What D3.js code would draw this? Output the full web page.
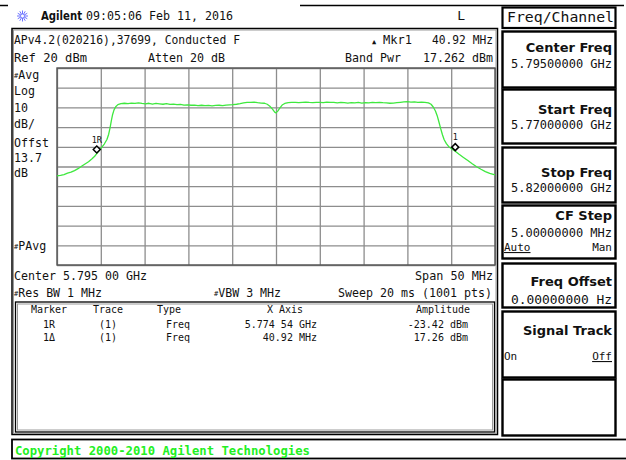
<!DOCTYPE html>
<html>
<head>
<meta charset="utf-8">
<script src="https://cdn.jsdelivr.net/npm/d3@7"></script>
<style>
  html, body { margin: 0; padding: 0; background: #fff; }
  svg { display: block; }
  text { font-family: "DejaVu Sans Mono", monospace; fill: #111; }
</style>
</head>
<body>
<svg id="screen" width="626" height="460"></svg>
<script>
// Sweep: 5.770 – 5.820 GHz, Ref 20 dBm, 10 dB/div
const startMHz = 5770, stopMHz = 5820;
const refLevel = 20, dbPerDiv = 10, divisions = 10;

// Grid positions (MHz and dBm)
const xGridMHz = [5770, 5775, 5780, 5785, 5790, 5795, 5800, 5805, 5810, 5815, 5820];
const yGridDbm = [20, 10, 0, -10, -20, -30, -40, -50, -60, -70, -80];

// Averaged trace
const freqMHz = [
  5770.0, 5770.4, 5770.8, 5771.2, 5771.6, 5772.0, 5772.4, 5772.8, 5773.2, 5773.6,
  5774.0, 5774.3, 5774.54, 5774.8, 5775.1, 5775.4, 5775.7, 5775.9, 5776.05, 5776.2,
  5776.35, 5776.5, 5776.7, 5776.95, 5777.3, 5777.7, 5778.1, 5778.5, 5778.9, 5779.3,
  5779.7, 5780.1, 5780.5, 5780.9, 5781.3, 5781.7, 5782.1, 5782.5, 5782.9, 5783.3,
  5783.7, 5784.1, 5784.5, 5784.9, 5785.3, 5785.7, 5786.1, 5786.5, 5786.9, 5787.3,
  5787.7, 5788.1, 5788.5, 5788.9, 5789.3, 5789.7, 5790.1, 5790.5, 5790.9, 5791.3,
  5791.7, 5792.1, 5792.5, 5792.9, 5793.3, 5793.7, 5794.0, 5794.3, 5794.6, 5794.85,
  5795.0, 5795.2, 5795.45, 5795.7, 5796.0, 5796.4, 5796.8, 5797.2, 5797.6, 5798.0,
  5798.4, 5798.8, 5799.2, 5799.6, 5800.0, 5800.4, 5800.8, 5801.2, 5801.6, 5802.0,
  5802.4, 5802.8, 5803.2, 5803.6, 5804.0, 5804.4, 5804.8, 5805.2, 5805.6, 5806.0,
  5806.4, 5806.8, 5807.2, 5807.6, 5808.0, 5808.4, 5808.8, 5809.2, 5809.6, 5810.0,
  5810.4, 5810.8, 5811.2, 5811.6, 5812.0, 5812.4, 5812.7, 5812.95, 5813.2, 5813.4,
  5813.6, 5813.8, 5814.0, 5814.2, 5814.45, 5814.7, 5815.0, 5815.46, 5815.9, 5816.4,
  5816.9, 5817.4, 5817.9, 5818.4, 5818.9, 5819.4, 5820.0
];
const levelDbm = [
  -34.8, -34.5, -34.1, -33.4, -32.9, -32.1, -31.1, -29.9, -28.7, -27.6,
  -26.1, -24.8, -23.42, -21.9, -20.3, -18.6, -16.3, -13.6, -10.5, -6.8,
  -3.6, -1.4, 0.3, 1.4, 1.9, 2.1, 1.9, 2.2, 2.0, 2.3,
  2.0, 1.8, 2.1, 1.7, 2.0, 1.8, 1.6, 1.9, 1.5, 1.7,
  1.4, 1.5, 1.2, 1.3, 1.1, 1.2, 0.9, 1.1, 0.9, 1.0,
  0.8, 1.0, 1.1, 0.9, 1.2, 1.3, 1.4, 1.6, 1.9, 2.3,
  2.6, 2.5, 2.7, 2.4, 2.2, 2.1, 1.6, 0.6, -0.9, -2.4,
  -2.8, -1.9, -0.2, 1.2, 2.0, 2.4, 2.5, 2.6, 2.4, 2.6,
  2.7, 2.5, 2.4, 2.6, 2.5, 2.4, 2.7, 2.5, 2.6, 2.3,
  2.5, 2.4, 2.2, 2.4, 2.3, 2.5, 2.2, 2.4, 2.3, 2.5,
  2.4, 2.6, 2.4, 2.3, 2.1, 2.2, 2.4, 2.6, 2.8, 2.9,
  2.7, 2.8, 2.6, 2.7, 2.5, 2.3, 1.6, 0.2, -1.8, -4.2,
  -7.4, -10.8, -13.9, -16.4, -18.4, -19.8, -20.9, -22.2, -23.8, -25.4,
  -27.0, -28.6, -30.1, -31.4, -32.6, -33.5, -34.2
];

// Markers: reference and delta
const markerIds = ["1R", "1"];
const markerMHz = [5774.54, 5815.46];
const markerDbm = [-23.42, -22.2];

// Marker table
const tableHeader = ["Marker", "Trace", "Type", "X Axis", "Amplitude"];
const tableRows = [
  ["1R", "(1)", "Freq", "5.774 54 GHz", "-23.42 dBm"],
  ["1\u0394", "(1)", "Freq", "40.92 MHz", "17.26 dBm"]
];

// Soft-key menu
const menuTitle = "Freq/Channel";
const softKeyLabels = ["Center Freq", "Start Freq", "Stop Freq", "CF Step", "Freq Offset", "Signal Track", ""];
const softKeyValues = ["5.79500000 GHz", "5.77000000 GHz", "5.82000000 GHz", "5.00000000 MHz", "0.00000000  Hz", "", ""];

const svg = d3.select("#screen");

// ---------- plot area ----------
const plot = { left: 57, right: 495, top: 68, bottom: 265 };
const x = d3.scaleLinear().domain([startMHz, stopMHz]).range([plot.left, plot.right]);
const y = d3.scaleLinear().domain([refLevel, refLevel - dbPerDiv * divisions]).range([plot.top, plot.bottom]);

// ---------- frames ----------
svg.append("line").attr("x1", 0).attr("x2", 8).attr("y1", 5.5).attr("y2", 5.5)
  .attr("stroke", "#000").attr("stroke-width", 1.5);
svg.append("line").attr("x1", 300).attr("x2", 624).attr("y1", 5.5).attr("y2", 5.5)
  .attr("stroke", "#000").attr("stroke-width", 1.5);

// main measurement frame
svg.append("rect").attr("x", 12).attr("y", 28.5).attr("width", 485.5).attr("height", 406)
  .attr("fill", "none").attr("stroke", "#000").attr("stroke-width", 1.5);
svg.append("rect").attr("x", 13.5).attr("y", 30).attr("width", 482.5).attr("height", 403.5)
  .attr("fill", "none").attr("stroke", "#9a9a9a").attr("stroke-width", 1);

// marker table frame (double line)
svg.append("rect").attr("x", 15.5).attr("y", 302).attr("width", 479).attr("height", 130)
  .attr("fill", "none").attr("stroke", "#000").attr("stroke-width", 1.3);
svg.append("rect").attr("x", 17.5).attr("y", 304).attr("width", 475).attr("height", 126)
  .attr("fill", "none").attr("stroke", "#9a9a9a").attr("stroke-width", 1);

// ---------- graticule ----------
const grid = svg.append("g");
grid.append("g")
  .attr("transform", `translate(0,${plot.bottom})`)
  .call(d3.axisBottom(x).tickValues(xGridMHz).tickSize(-(plot.bottom - plot.top)).tickFormat(""))
  .call(g => g.select(".domain").remove())
  .call(g => g.selectAll(".tick line").attr("stroke", "#8d8d8d").attr("stroke-width", 1.3));
grid.append("g")
  .attr("transform", `translate(${plot.left},0)`)
  .call(d3.axisLeft(y).tickValues(yGridDbm).tickSize(-(plot.right - plot.left)).tickFormat(""))
  .call(g => g.select(".domain").remove())
  .call(g => g.selectAll(".tick line").attr("stroke", "#8d8d8d").attr("stroke-width", 1.3));
grid.append("rect")
  .attr("x", plot.left).attr("y", plot.top)
  .attr("width", plot.right - plot.left).attr("height", plot.bottom - plot.top)
  .attr("fill", "none").attr("stroke", "#555").attr("stroke-width", 1.4);

// ---------- trace ----------
const trace = freqMHz.map((f, i) => [f, levelDbm[i]]);
svg.append("path")
  .datum(trace)
  .attr("fill", "none")
  .attr("stroke", "#3ee83e")
  .attr("stroke-width", 1.3)
  .attr("stroke-linejoin", "round")
  .attr("d", d3.line().x(d => x(d[0])).y(d => y(d[1])));

// ---------- markers ----------
const mk = svg.append("g").selectAll("g").data(markerIds).join("g")
  .attr("transform", (d, i) => `translate(${x(markerMHz[i])},${y(markerDbm[i]) - 4})`);
mk.append("path").attr("d", "M0,-3.5L3.5,0L0,3.5L-3.5,0Z")
  .attr("fill", "#fff").attr("stroke", "#000").attr("stroke-width", 1.5);
mk.append("text").attr("x", 0).attr("y", -7).attr("text-anchor", "middle")
  .attr("font-size", 8.5).text(d => d);

// ---------- text helper ----------
function label(txt, xp, yp, opt = {}) {
  const t = svg.append("text").attr("x", xp).attr("y", yp)
    .attr("font-size", opt.size || 11.6)
    .attr("text-anchor", opt.anchor || "start")
    .text(txt);
  if (opt.weight) t.attr("font-weight", opt.weight);
  if (opt.family) t.style("font-family", opt.family);
  if (opt.fill) t.style("fill", opt.fill);
  if (opt.len) t.attr("textLength", opt.len).attr("lengthAdjust", "spacingAndGlyphs");
  if (opt.underline) t.attr("text-decoration", "underline");
  return t;
}

// header
const star = svg.append("g").attr("transform", "translate(22.5,16)");
[0, 30, 60, 90, 120, 150].forEach(a => {
  const r = (a * Math.PI) / 180;
  star.append("line")
    .attr("x1", -5.5 * Math.cos(r)).attr("y1", -5.5 * Math.sin(r))
    .attr("x2", 5.5 * Math.cos(r)).attr("y2", 5.5 * Math.sin(r))
    .attr("stroke", "#6d73ff").attr("stroke-width", 1);
});
star.append("circle").attr("r", 2).attr("fill", "#fff").attr("stroke", "#6d73ff").attr("stroke-width", 0.8);
label("Agilent", 41, 20, { size: 12, weight: "bold", family: "DejaVu Sans", len: 41 });
label("09:05:06  Feb 11, 2016", 86, 20, { size: 12, len: 147 });
label("L", 465, 20, { size: 13, anchor: "end" });

// annotation lines
label("APv4.2(020216),37699, Conducted F", 14, 44, { len: 226 });
label("\u25B2", 372, 44, { size: 7 });
label("Mkr1", 383, 44, { len: 29 });
label("40.92 MHz", 493, 44, { anchor: "end", len: 61 });
label("Ref 20 dBm", 14, 62, { len: 73 });
label("Atten 20 dB", 148, 62, { len: 77 });
label("Band Pwr", 345, 62, { len: 56 });
label("17.262 dBm", 493, 62, { anchor: "end", len: 70 });

const side = [["Avg", 79, true], ["Log", 95], ["10", 112], ["dB/", 128], ["Offst", 147], ["13.7", 162], ["dB", 177], ["PAvg", 250, true]];
side.forEach(([s, yy, hash]) => {
  const t = svg.append("text").attr("x", 14).attr("y", yy).attr("font-size", 11.6);
  if (hash) t.append("tspan").attr("font-size", 7).attr("dy", -1).text("#");
  t.append("tspan").attr("dy", hash ? 1 : 0).text(s);
});

label("Center 5.795 00 GHz", 14, 280, { len: 133 });
label("Span 50 MHz", 493, 280, { anchor: "end", len: 78 });
{
  const t = svg.append("text").attr("x", 14).attr("y", 297).attr("font-size", 11.6);
  t.append("tspan").attr("font-size", 7).attr("dy", -1).text("#");
  t.append("tspan").attr("dy", 1).text("Res BW 1 MHz");
  const v = svg.append("text").attr("x", 214).attr("y", 297).attr("font-size", 11.6);
  v.append("tspan").attr("font-size", 7).attr("dy", -1).text("#");
  v.append("tspan").attr("dy", 1).text("VBW 3 MHz");
}
label("Sweep 20 ms (1001 pts)", 492, 297, { anchor: "end", len: 154 });

// marker table
const colX = [49, 108, 166, 317, 468];
const colAnchor = ["middle", "middle", "start", "end", "end"];
const headX = [49, 108, 157, 285, 443];
const headAnchor = ["middle", "middle", "start", "middle", "middle"];
tableHeader.forEach((h, i) => label(h, headX[i], 313, { size: 10, anchor: headAnchor[i] }));
tableRows.forEach((row, r) => {
  row.forEach((c, i) => label(c, colX[i], 328 + r * 13, { size: 10, anchor: colAnchor[i] }));
});

// ---------- soft keys ----------
const keyBox = [[31, 87], [89, 143], [147, 202], [205, 258], [263, 307], [311, 377], [379, 435]];
svg.append("rect").attr("x", 502.5).attr("y", 7.5).attr("width", 113).attr("height", 20.5)
  .attr("fill", "#fff").attr("stroke", "#000").attr("stroke-width", 2.2);
label(menuTitle, 507, 22, { size: 14, len: 107 });

const labelY = [52, 114, 177, 220, 286, 335, null];
const valueY = [68, 129, 192, 237, 304, null, null];
keyBox.forEach(([t, b], i) => {
  svg.append("rect").attr("x", 502.5).attr("y", t + 0.5).attr("width", 113).attr("height", b - t)
    .attr("fill", "#fff").attr("stroke", "#000").attr("stroke-width", 2.4);
  if (softKeyLabels[i]) {
    label(softKeyLabels[i], 612, labelY[i], {
      size: 13, weight: "bold", family: "DejaVu Sans", anchor: "end"
    });
  }
  if (softKeyValues[i]) {
    label(softKeyValues[i], 612, valueY[i], { size: 11.6, anchor: "end", len: 101 });
  }
});
label("Auto", 504, 251, { size: 11, underline: true });
label("Man", 612, 251, { size: 11, anchor: "end" });
label("On", 504, 360, { size: 11 });
label("Off", 612, 360, { size: 11, anchor: "end", underline: true });

// ---------- status bar ----------
svg.append("rect").attr("x", 12).attr("y", 439.5).attr("width", 620).attr("height", 19)
  .attr("fill", "#fff").attr("stroke", "#000").attr("stroke-width", 1.8);
label("Copyright 2000-2010 Agilent Technologies", 15, 455, {
  size: 13, weight: "bold", fill: "#22f022", len: 295
});
</script>
</body>
</html>
